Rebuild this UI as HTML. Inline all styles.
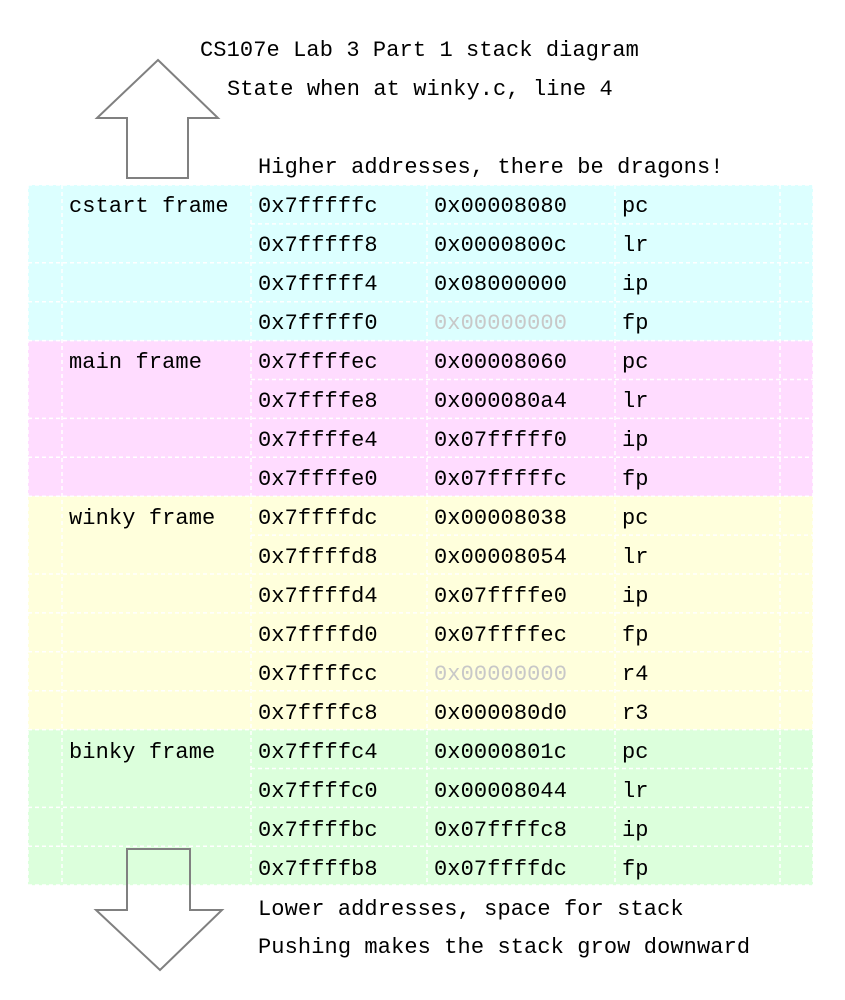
<!DOCTYPE html>
<html><head><meta charset="utf-8"><style>
html,body{margin:0;padding:0;background:#fff;}
svg{display:block}
text{font-family:"Liberation Mono","DejaVu Sans Mono",monospace;font-size:22px;letter-spacing:0.1px;fill:#000;dominant-baseline:central}
</style></head><body>
<svg width="845" height="1000" viewBox="0 0 845 1000" xmlns="http://www.w3.org/2000/svg">
<rect x="28" y="185" width="785" height="155.6" fill="#dcffff"/>
<rect x="28" y="340.6" width="785" height="155.6" fill="#ffdcff"/>
<rect x="28" y="496.2" width="785" height="233.4" fill="#ffffdc"/>
<rect x="28" y="729.6" width="785" height="155.6" fill="#dcffdc"/>
<g stroke="#fff" stroke-width="1.5" stroke-dasharray="4,3" fill="none">
<line x1="28" y1="185" x2="813" y2="185"/>
<line x1="28" y1="885" x2="813" y2="885"/>
<line x1="28" y1="185" x2="28" y2="885"/>
<line x1="62" y1="185" x2="62" y2="885"/>
<line x1="251" y1="185" x2="251" y2="885"/>
<line x1="427" y1="185" x2="427" y2="885"/>
<line x1="615" y1="185" x2="615" y2="885"/>
<line x1="780" y1="185" x2="780" y2="885"/>
<line x1="813" y1="185" x2="813" y2="885"/>
</g>
<g stroke="#fff" stroke-width="1.5" stroke-dasharray="4,3">
<line x1="251" y1="223.9" x2="813" y2="223.9"/>
<line x1="28" y1="262.8" x2="813" y2="262.8"/>
<line x1="28" y1="301.7" x2="813" y2="301.7"/>
<line x1="28" y1="340.6" x2="813" y2="340.6"/>
<line x1="251" y1="379.5" x2="813" y2="379.5"/>
<line x1="28" y1="418.4" x2="813" y2="418.4"/>
<line x1="28" y1="457.3" x2="813" y2="457.3"/>
<line x1="28" y1="496.2" x2="813" y2="496.2"/>
<line x1="251" y1="535.1" x2="813" y2="535.1"/>
<line x1="28" y1="574" x2="813" y2="574"/>
<line x1="28" y1="612.9" x2="813" y2="612.9"/>
<line x1="28" y1="651.8" x2="813" y2="651.8"/>
<line x1="28" y1="690.7" x2="813" y2="690.7"/>
<line x1="28" y1="729.6" x2="813" y2="729.6"/>
<line x1="251" y1="768.5" x2="813" y2="768.5"/>
<line x1="28" y1="807.4" x2="813" y2="807.4"/>
<line x1="28" y1="846.3" x2="813" y2="846.3"/>
</g>
<polygon points="158,60 218,118 188,118 188,178 127,178 127,118 97,118" fill="#fff" stroke="#808080" stroke-width="2"/>
<polygon points="127,849 190,849 190,910 222,910 160,970 96,910 127,910" fill="none" stroke="#808080" stroke-width="2"/>
<g transform="translate(0,1.5)">
<text x="200" y="49">CS107e Lab 3 Part 1 stack diagram</text>
<text x="227" y="88">State when at winky.c, line 4</text>
<text x="258" y="166">Higher addresses, there be dragons!</text>
<text x="258" y="908">Lower addresses, space for stack</text>
<text x="258" y="946">Pushing makes the stack grow downward</text>
<text x="69" y="205">cstart frame</text>
<text x="69" y="361">main frame</text>
<text x="69" y="517">winky frame</text>
<text x="69" y="751">binky frame</text>
<text x="258" y="205">0x7fffffc</text><text x="434" y="205">0x00008080</text><text x="622" y="205">pc</text>
<text x="258" y="244">0x7fffff8</text><text x="434" y="244">0x0000800c</text><text x="622" y="244">lr</text>
<text x="258" y="283">0x7fffff4</text><text x="434" y="283">0x08000000</text><text x="622" y="283">ip</text>
<text x="258" y="322">0x7fffff0</text><text x="434" y="322" style="fill:#c8c8c8">0x00000000</text><text x="622" y="322">fp</text>
<text x="258" y="361">0x7ffffec</text><text x="434" y="361">0x00008060</text><text x="622" y="361">pc</text>
<text x="258" y="400">0x7ffffe8</text><text x="434" y="400">0x000080a4</text><text x="622" y="400">lr</text>
<text x="258" y="439">0x7ffffe4</text><text x="434" y="439">0x07fffff0</text><text x="622" y="439">ip</text>
<text x="258" y="478">0x7ffffe0</text><text x="434" y="478">0x07fffffc</text><text x="622" y="478">fp</text>
<text x="258" y="517">0x7ffffdc</text><text x="434" y="517">0x00008038</text><text x="622" y="517">pc</text>
<text x="258" y="556">0x7ffffd8</text><text x="434" y="556">0x00008054</text><text x="622" y="556">lr</text>
<text x="258" y="595">0x7ffffd4</text><text x="434" y="595">0x07ffffe0</text><text x="622" y="595">ip</text>
<text x="258" y="634">0x7ffffd0</text><text x="434" y="634">0x07ffffec</text><text x="622" y="634">fp</text>
<text x="258" y="673">0x7ffffcc</text><text x="434" y="673" style="fill:#c8c8c8">0x00000000</text><text x="622" y="673">r4</text>
<text x="258" y="712">0x7ffffc8</text><text x="434" y="712">0x000080d0</text><text x="622" y="712">r3</text>
<text x="258" y="751">0x7ffffc4</text><text x="434" y="751">0x0000801c</text><text x="622" y="751">pc</text>
<text x="258" y="790">0x7ffffc0</text><text x="434" y="790">0x00008044</text><text x="622" y="790">lr</text>
<text x="258" y="829">0x7ffffbc</text><text x="434" y="829">0x07ffffc8</text><text x="622" y="829">ip</text>
<text x="258" y="868">0x7ffffb8</text><text x="434" y="868">0x07ffffdc</text><text x="622" y="868">fp</text>
</g>
</svg>
</body></html>
